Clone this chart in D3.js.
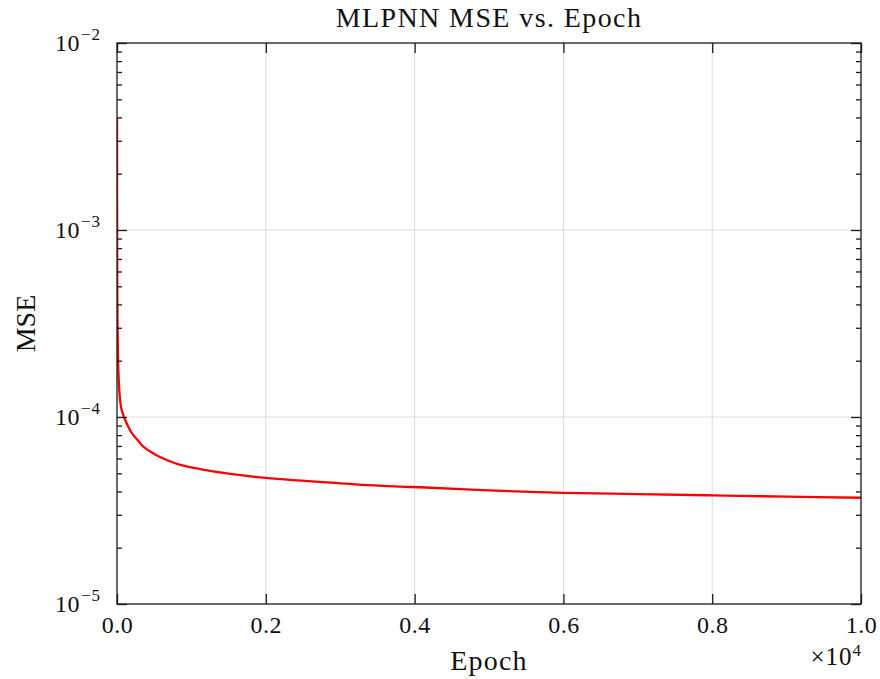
<!DOCTYPE html>
<html>
<head>
<meta charset="utf-8">
<script src="https://cdn.jsdelivr.net/npm/d3@7"></script>
<style>
  body { margin: 0; background: #fff; }
  svg { font-family: "Liberation Serif", "DejaVu Serif", serif; }
</style>
</head>
<body>
<div id="chart"></div>
<script>
// values
const epochs = [0, 1, 3, 5, 10, 20, 40, 60, 94, 150, 200, 280, 354, 500, 668, 850, 1116, 1500, 2000, 3000, 3804, 4073, 5000, 6000, 7000, 8000, 9000, 10000];
const mse = [4.0e-3, 1.5e-3, 6.0e-4, 4.0e-4, 2.6e-4, 1.7e-4, 1.25e-4, 1.1e-4, 1.0e-4, 8.9e-5, 8.2e-5, 7.5e-5, 6.94e-5, 6.35e-5, 5.89e-5, 5.55e-5, 5.27e-5, 4.98e-5, 4.72e-5, 4.42e-5, 4.24e-5, 4.21e-5, 4.05e-5, 3.93e-5, 3.87e-5, 3.81e-5, 3.75e-5, 3.70e-5];
const xTicks = [0, 2000, 4000, 6000, 8000, 10000];
const yTicks = [1e-5, 1e-4, 1e-3, 1e-2];
const yTickExp = ['\u22125', '\u22124', '\u22123', '\u22122'];

const data = epochs.map((e, i) => ({epoch: e, value: mse[i]}));

// dimensions
let margin = {top: 43, right: 19, bottom: 75, left: 117};
let width = 880 - margin.left - margin.right;
let height = 679 - margin.top - margin.bottom;

let x = d3.scaleLinear().domain([0, 10000]).range([0, width]);
let y = d3.scaleLog().domain([1e-5, 1e-2]).range([height, 0]);

let svg = d3.select('#chart')
  .append('svg')
  .attr('width', 880)
  .attr('height', 679)
  .append('g')
  .attr('transform', 'translate(' + margin.left + ',' + margin.top + ')');

// grid
svg.append('g')
  .selectAll('line')
  .data(xTicks.slice(1, -1))
  .join('line')
  .attr('x1', d => x(d)).attr('x2', d => x(d))
  .attr('y1', 0).attr('y2', height)
  .attr('stroke', '#dcdcdc').attr('stroke-width', 1);

svg.append('g')
  .selectAll('line')
  .data(yTicks.slice(1, -1))
  .join('line')
  .attr('y1', d => y(d)).attr('y2', d => y(d))
  .attr('x1', 0).attr('x2', width)
  .attr('stroke', '#dcdcdc').attr('stroke-width', 1);

// line
svg.append('clipPath').attr('id', 'clip')
  .append('rect').attr('width', width).attr('height', height);

svg.append('path')
  .datum(data)
  .attr('clip-path', 'url(#clip)')
  .attr('fill', 'none')
  .attr('stroke', '#ff0000')
  .attr('stroke-width', 2.3)
  .attr('stroke-linejoin', 'round')
  .attr('d', d3.line().x(d => x(d.epoch)).y(d => y(d.value)).curve(d3.curveCatmullRom.alpha(0.5)));

// minor y ticks
let minor = [];
for (let dec = -5; dec < -2; dec++) {
  for (let m = 2; m <= 9; m++) minor.push(m * Math.pow(10, dec));
}

const axisColor = '#1a1a1a';
const tickStyle = sel => sel.attr('stroke', axisColor).attr('stroke-width', 1.3);

// axes with inward ticks
let gBottom = svg.append('g').attr('transform', 'translate(0,' + height + ')')
  .call(d3.axisBottom(x).tickValues(xTicks).tickSize(-10).tickPadding(12)
    .tickFormat(d => (d / 10000).toFixed(1)));
let gTop = svg.append('g')
  .call(d3.axisTop(x).tickValues(xTicks).tickSize(-10).tickFormat(''));
let gLeft = svg.append('g')
  .call(d3.axisLeft(y).tickValues(yTicks).tickSize(-10).tickFormat(''));
let gRight = svg.append('g').attr('transform', 'translate(' + width + ',0)')
  .call(d3.axisRight(y).tickValues(yTicks).tickSize(-10).tickFormat(''));
let gLeftMinor = svg.append('g')
  .call(d3.axisLeft(y).tickValues(minor).tickSize(-5).tickFormat(''));
let gRightMinor = svg.append('g').attr('transform', 'translate(' + width + ',0)')
  .call(d3.axisRight(y).tickValues(minor).tickSize(-5).tickFormat(''));

[gBottom, gTop, gLeft, gRight, gLeftMinor, gRightMinor].forEach(g => {
  g.select('.domain').remove();
  g.selectAll('.tick line').call(tickStyle);
});
gBottom.selectAll('.tick text')
  .attr('font-size', 24).attr('fill', '#111')
  .attr('letter-spacing', 0.5)
  .attr('font-family', '"Liberation Serif", serif');

// frame
svg.append('rect')
  .attr('width', width).attr('height', height)
  .attr('fill', 'none').attr('stroke', axisColor).attr('stroke-width', 1.3);

// y tick labels 10^n
let yl = svg.append('g').selectAll('text')
  .data(yTicks)
  .join('text')
  .attr('x', -16)
  .attr('y', d => y(d) + 8)
  .attr('text-anchor', 'end')
  .attr('font-size', 24)
  .attr('fill', '#111');
yl.append('tspan').attr('letter-spacing', 0.5).text('10');
yl.append('tspan')
  .attr('dx', 1)
  .attr('dy', -11)
  .attr('font-size', 17)
  .attr('letter-spacing', 1)
  .text((d, i) => yTickExp[i]);

// title and axis labels
svg.append('text')
  .attr('x', width / 2).attr('y', -16)
  .attr('text-anchor', 'middle')
  .attr('font-size', 28).attr('fill', '#111')
  .attr('letter-spacing', 1.4)
  .text('MLPNN MSE vs. Epoch');

svg.append('text')
  .attr('x', width / 2).attr('y', height + 66)
  .attr('text-anchor', 'middle')
  .attr('font-size', 28).attr('fill', '#111')
  .attr('letter-spacing', 1.2)
  .text('Epoch');

svg.append('text')
  .attr('transform', 'translate(-82,' + (height / 2) + ') rotate(-90)')
  .attr('text-anchor', 'middle')
  .attr('font-size', 28).attr('fill', '#111')
  .text('MSE');

let mult = svg.append('text')
  .attr('x', width).attr('y', height + 61)
  .attr('text-anchor', 'end')
  .attr('font-size', 25).attr('fill', '#111');
mult.append('tspan').attr('letter-spacing', 1).text('\u00d710');
mult.append('tspan').attr('dy', -9).attr('font-size', 17).text('4');
</script>
</body>
</html>
